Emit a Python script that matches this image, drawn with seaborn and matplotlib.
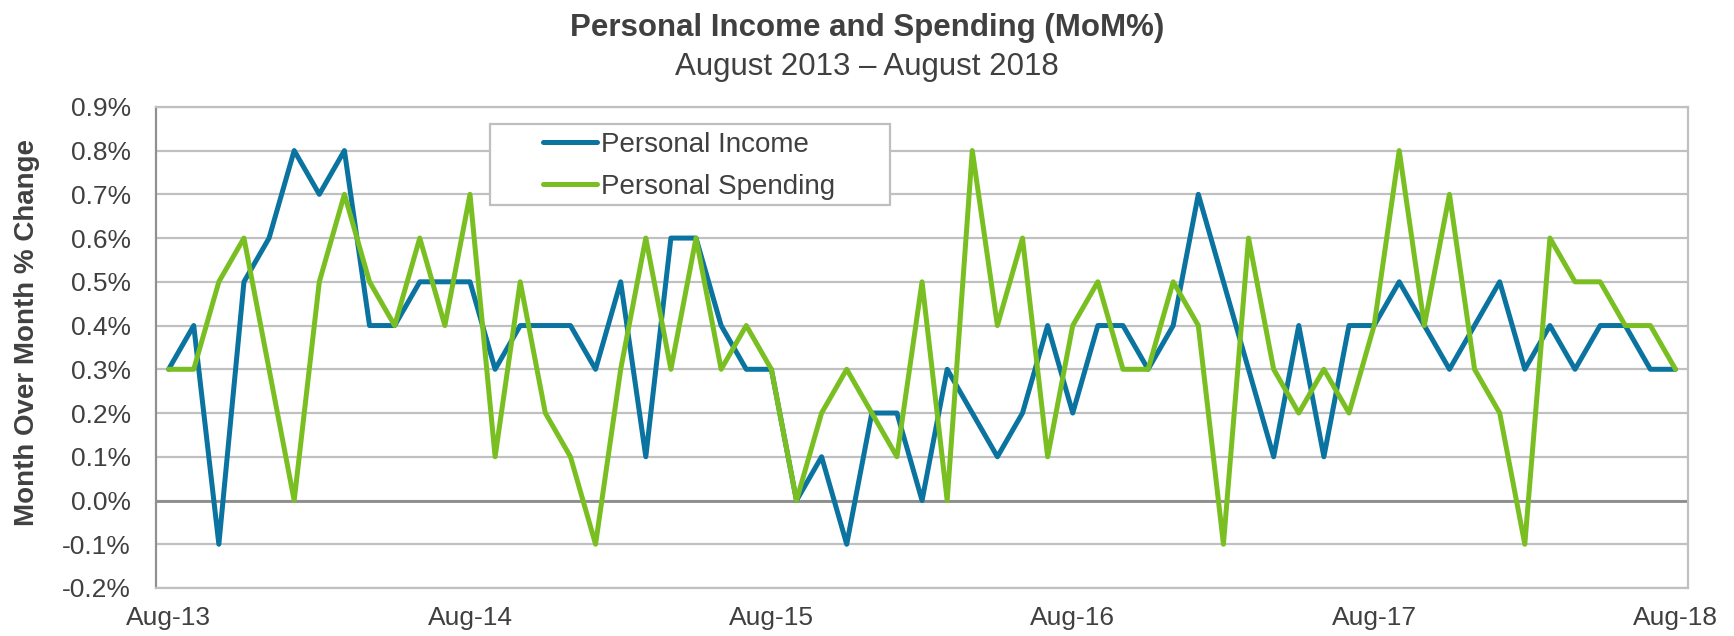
import pandas as pd
import matplotlib.pyplot as plt
import matplotlib.ticker as mticker
from matplotlib.patches import Rectangle
import seaborn as sns

# Monthly data, Aug-2013 .. Aug-2018 (61 months), MoM % change
months = pd.date_range("2013-08-01", "2018-08-01", freq="MS")
income = [0.3, 0.4, -0.1, 0.5, 0.6, 0.8, 0.7, 0.8, 0.4, 0.4, 0.5, 0.5,
          0.5, 0.3, 0.4, 0.4, 0.4, 0.3, 0.5, 0.1, 0.6, 0.6, 0.4, 0.3,
          0.3, 0.0, 0.1, -0.1, 0.2, 0.2, 0.0, 0.3, 0.2, 0.1, 0.2, 0.4,
          0.2, 0.4, 0.4, 0.3, 0.4, 0.7, 0.5, 0.3, 0.1, 0.4, 0.1, 0.4,
          0.4, 0.5, 0.4, 0.3, 0.4, 0.5, 0.3, 0.4, 0.3, 0.4, 0.4, 0.3,
          0.3]
spending = [0.3, 0.3, 0.5, 0.6, 0.3, 0.0, 0.5, 0.7, 0.5, 0.4, 0.6, 0.4,
            0.7, 0.1, 0.5, 0.2, 0.1, -0.1, 0.3, 0.6, 0.3, 0.6, 0.3, 0.4,
            0.3, 0.0, 0.2, 0.3, 0.2, 0.1, 0.5, 0.0, 0.8, 0.4, 0.6, 0.1,
            0.4, 0.5, 0.3, 0.3, 0.5, 0.4, -0.1, 0.6, 0.3, 0.2, 0.3, 0.2,
            0.4, 0.8, 0.4, 0.7, 0.3, 0.2, -0.1, 0.6, 0.5, 0.5, 0.4, 0.4,
            0.3]
series_names = ["Personal Income", "Personal Spending"]
tick_labels = ["Aug-13", "Aug-14", "Aug-15", "Aug-16", "Aug-17", "Aug-18"]

df = pd.DataFrame({"idx": range(len(months)),
                   series_names[0]: income,
                   series_names[1]: spending})
long_df = df.melt(id_vars="idx", var_name="series", value_name="value")

sns.set_theme(style="white")
plt.rcParams['font.family'] = ['Liberation Sans', 'DejaVu Sans']
text_color = "#404040"

fig, ax = plt.subplots(figsize=(17.34, 6.36), dpi=100)
fig.subplots_adjust(left=0.09, right=0.9735, top=0.832, bottom=0.0755)

palette = {"Personal Income": "#0A73A0", "Personal Spending": "#7ABF22"}
sns.lineplot(data=long_df, x="idx", y="value", hue="series", palette=palette,
             linewidth=3.6, ax=ax, legend=True)

# grid and axes
ax.set_ylim(-0.2, 0.9)
ax.set_xlim(-0.5, len(months) - 0.5)
ax.yaxis.set_major_locator(mticker.MultipleLocator(0.1))
ax.yaxis.set_major_formatter(mticker.FuncFormatter(lambda v, p: f"{v:.1f}%"))
ax.set_xticks(range(0, len(months), 12))
ax.set_xticklabels(tick_labels)
ax.grid(axis="y", color="#C0C0C0", linewidth=1.6)
ax.set_axisbelow(True)
ax.axhline(0, color="#8C8C8C", linewidth=2, zorder=1.5)
for side in ["top", "right", "bottom"]:
    ax.spines[side].set_color("#C0C0C0")
    ax.spines[side].set_linewidth(1.6)
ax.spines["left"].set_color("#909090")
ax.spines["left"].set_linewidth(1.6)
ax.tick_params(axis="y", labelsize=19, colors=text_color, length=0, pad=18)
ax.tick_params(axis="x", labelsize=19, colors=text_color, length=0, pad=13)

ax.set_xlabel("")
ax.set_ylabel("Month Over Month % Change", fontsize=20, fontweight="bold",
              color=text_color)
ax.yaxis.set_label_coords(-0.076, 0.53)

fig.text(0.5, 0.944, "Personal Income and Spending (MoM%)", ha="center",
         va="baseline", fontsize=22.5, fontweight="bold", color=text_color)
fig.text(0.5, 0.882, "August 2013 \u2013 August 2018", ha="center",
         va="baseline", fontsize=22.5, color=text_color)

# legend with a hand-drawn frame (the original has a wide left margin)
ax.add_patch(Rectangle((0.218, 0.796), 0.261, 0.169, transform=ax.transAxes,
                       facecolor="white", edgecolor="#BFBFBF", linewidth=1.6,
                       zorder=3))
leg = ax.legend(loc="upper left", bbox_to_anchor=(0.2526, 0.948), fontsize=20,
                frameon=False, handlelength=1.95, handletextpad=0.15,
                borderpad=0, labelspacing=0.57, borderaxespad=0)
leg.set_zorder(4)
for t in leg.get_texts():
    t.set_color(text_color)
for line in leg.get_lines():
    line.set_linewidth(3.6)

plt.savefig("out.png", dpi=100)
